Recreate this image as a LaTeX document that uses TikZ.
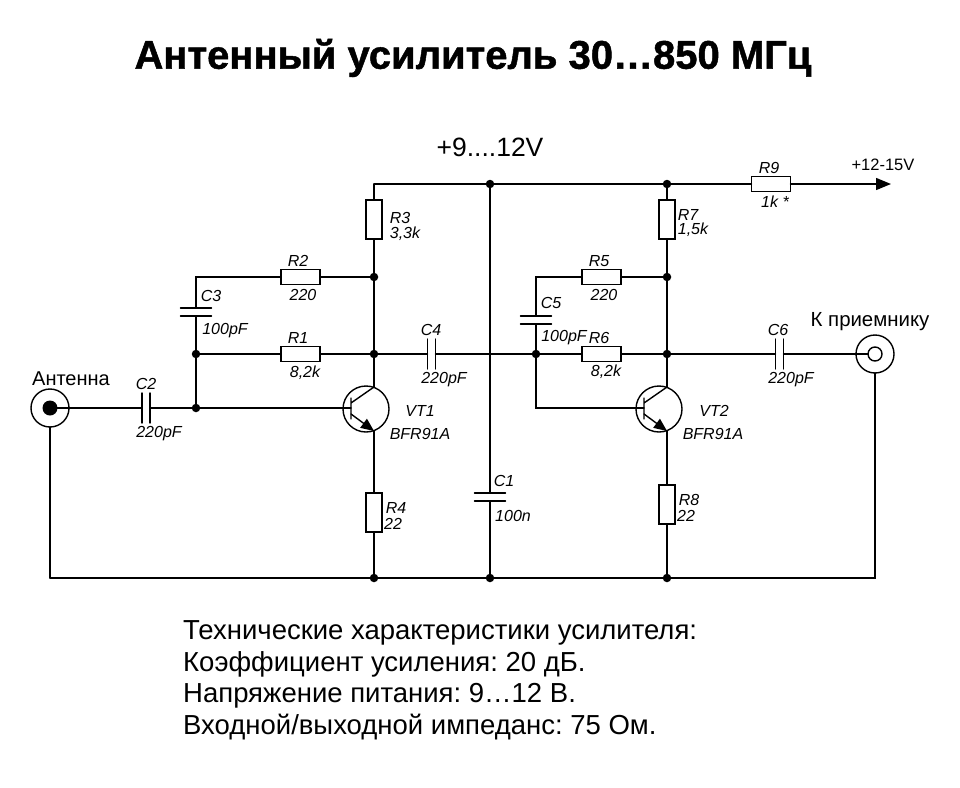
\documentclass[tikz,border=0pt]{standalone}
\usepackage{fontspec}
\setmainfont{Liberation Sans}
\newfontfamily\titlefont[FakeBold=1.2]{Liberation Sans Bold}
\usetikzlibrary{arrows.meta}
\frenchspacing
\tikzset{
  wire/.style={line width=1.4pt,black,line cap=round},
  resh/.style={draw,line width=1.4pt,rectangle,inner sep=0pt,outer sep=0pt,minimum width=39pt,minimum height=15pt},
  resv/.style={draw,line width=1.4pt,rectangle,inner sep=0pt,outer sep=0pt,minimum width=16pt,minimum height=39pt},
  capv/.style={rectangle,inner sep=0pt,outer sep=0pt,minimum width=8pt,minimum height=30pt},
  caph/.style={rectangle,inner sep=0pt,outer sep=0pt,minimum width=31pt,minimum height=8pt},
  jct/.style={circle,fill=black,inner sep=0pt,outer sep=0pt,minimum size=8.5pt},
  trans/.style={circle,draw,line width=1.4pt,inner sep=0pt,outer sep=0pt,minimum size=46pt},
  conn/.style={circle,draw,line width=1.4pt,inner sep=0pt,outer sep=0pt,minimum size=38pt},
  val/.style={inner sep=0pt,yshift=-1pt,font=\fontsize{16}{17}\selectfont\itshape},
  spec/.style={anchor=west,inner sep=0pt,font=\fontsize{27.5}{29}\selectfont},
  emit/.style={wire,-{Triangle[length=13pt,width=11pt]}}
}
\begin{document}
\begin{tikzpicture}[x=1pt,y=-1pt]
\useasboundingbox (0,0) rectangle (960,787);
% junctions
\node[jct] (j196a) at (196,408) {};
\node[jct] (j196b) at (196,354) {};
\node[jct] (j374a) at (374,277) {};
\node[jct] (j374b) at (374,354) {};
\node[jct] (j374c) at (374,578) {};
\node[jct] (j490a) at (490,184) {};
\node[jct] (j490b) at (490,578) {};
\node[jct] (j666a) at (667,184) {};
\node[jct] (j666b) at (667,277) {};
\node[jct] (j666c) at (667,354) {};
\node[jct] (j666d) at (667,578) {};
\node[jct] (j536) at (536,354) {};
% connectors
\node[conn] (ant) at (50,408) {};
\node[circle,fill=black,inner sep=0pt,outer sep=0pt,minimum size=15pt] (antc) at (50,408) {};
\node[conn] (out) at (875,354) {};
\node[circle,draw,line width=1.4pt,inner sep=0pt,outer sep=0pt,minimum size=14pt] (outc) at (875,354) {};
% resistors
\node[resh] (R1) at (300.5,354) {};
\node[resh] (R2) at (300.5,277) {};
\node[resv] (R3) at (374,219.5) {};
\node[resv] (R4) at (374,512.5) {};
\node[resh] (R5) at (601.5,277) {};
\node[resh] (R6) at (601.5,354) {};
\node[resv] (R7) at (667,219.5) {};
\node[resv] (R8) at (667,504.5) {};
\node[resh] (R9) at (771,184) {};
% capacitors
\node[capv] (C2) at (146,408) {};
\node[caph] (C3) at (196,312) {};
\node[capv] (C4) at (431.5,354) {};
\node[caph] (C5) at (536,320) {};
\node[capv] (C6) at (779.5,354) {};
\node[caph] (C1) at (490,497) {};
\foreach \c in {C2,C4,C6}{
  \draw[wire] (\c.north west)--(\c.south west) (\c.north east)--(\c.south east);
}
\foreach \c in {C3,C5,C1}{
  \draw[wire] (\c.north west)--(\c.north east) (\c.south west)--(\c.south east);
}
% transistors
\node[trans] (T1) at (366,409) {};
\coordinate (b1t) at (351,398); \coordinate (b1b) at (351,419);
\coordinate (b1) at (351,408); \coordinate (c1) at (351,403); \coordinate (e1) at (351,414);
\coordinate (c1o) at (374,387); \coordinate (e1o) at (374,431);
\draw[wire] (b1t)--(b1b) (c1)--(c1o);
\draw[emit] (e1)--(e1o);
\node[trans] (T2) at (659,409) {};
\coordinate (b2t) at (644,398); \coordinate (b2b) at (644,419);
\coordinate (b2) at (644,408); \coordinate (c2) at (644,403); \coordinate (e2) at (644,414);
\coordinate (c2o) at (667,387); \coordinate (e2o) at (667,431);
\draw[wire] (b2t)--(b2b) (c2)--(c2o);
\draw[emit] (e2)--(e2o);
% wiring
\coordinate (tl) at (374,184);
\coordinate (arr) at (891,184);
\coordinate (bl) at (50,578);
\coordinate (br) at (875,578);
\coordinate (c3t) at (196,277);
\coordinate (c5t) at (536,277);
\coordinate (b2c) at (536,408);
\draw[wire] (tl)--(j490a)--(j666a)--(R9.west);
\draw[wire,-{Triangle[length=15pt,width=12pt]}] (R9.east)--(arr);
\draw[wire] (tl)--(R3.north) (R3.south)--(j374a)--(j374b)--(c1o);
\draw[wire] (e1o)--(R4.north) (R4.south)--(j374c);
\draw[wire] (j666a)--(R7.north) (R7.south)--(j666b)--(j666c)--(c2o);
\draw[wire] (e2o)--(R8.north) (R8.south)--(j666d);
\draw[wire] (bl)--(br)--(out.south);
\draw[wire] (ant.south)--(bl);
\draw[wire] (antc.center)--(C2.west) (C2.east)--(j196a)--(b1);
\draw[wire] (j196a)--(j196b)--(C3.south) (C3.north)--(c3t)--(R2.west) (R2.east)--(j374a);
\draw[wire] (j196b)--(R1.west) (R1.east)--(j374b)--(C4.west) (C4.east)--(j536);
\draw[wire] (j536)--(R6.west) (R6.east)--(j666c)--(C6.west) (C6.east)--(outc.west);
\draw[wire] (j536)--(C5.south) (C5.north)--(c5t)--(R5.west) (R5.east)--(j666b);
\draw[wire] (j536)--(b2c)--(b2);
\draw[wire] (j490a)--(C1.north) (C1.south)--(j490b);
% title and texts
\node[inner sep=0pt,font=\fontsize{40}{42}\titlefont] (title) at (473,58) {Антенный усилитель 30…850 МГц};
\node[inner sep=0pt,font=\fontsize{26.5}{28}\selectfont] (vcc) at (490,147) {+9....12V};
\node[inner sep=0pt,font=\fontsize{16.5}{17}\selectfont] (v15) at (883,165) {+12-15V};
\node[inner sep=0pt,font=\fontsize{20}{21}\selectfont] (lant) at (71,379) {Антенна};
\node[inner sep=0pt,font=\fontsize{20.4}{22}\selectfont] (lout) at (870,322) {К приемнику};
\node[val] (tR1) at (298,337) {R1};
\node[val] (vR1) at (305,372) {8,2k};
\node[val] (tR2) at (298,260) {R2};
\node[val] (vR2) at (303,294) {220};
\node[val] (tR3) at (400,217) {R3};
\node[val] (vR3) at (405,233) {3,3k};
\node[val] (tR4) at (396,507) {R4};
\node[val] (vR4) at (393,523) {22};
\node[val] (tR5) at (599,260) {R5};
\node[val] (vR5) at (604,294) {220};
\node[val] (tR6) at (599,337) {R6};
\node[val] (vR6) at (606,371) {8,2k};
\node[val] (tR7) at (688,214) {R7};
\node[val] (vR7) at (693,229) {1,5k};
\node[val] (tR8) at (689,499) {R8};
\node[val] (vR8) at (686,515) {22};
\node[val] (tR9) at (769,167) {R9};
\node[val] (vR9) at (775,201) {1k *};
\node[val] (tC1) at (504,480) {C1};
\node[val] (vC1) at (513,515) {100n};
\node[val] (tC2) at (146,383) {C2};
\node[val] (vC2) at (159,433) {220pF};
\node[val] (tC3) at (211,295) {C3};
\node[val] (vC3) at (225,330) {100pF};
\node[val] (tC4) at (431,329) {C4};
\node[val] (vC4) at (444,379) {220pF};
\node[val] (tC5) at (551,302) {C5};
\node[val] (vC5) at (564,337) {100pF};
\node[val] (tC6) at (778,329) {C6};
\node[val] (vC6) at (791,379) {220pF};
\node[val] (tT1) at (420,410) {VT1};
\node[val] (vT1) at (420,433) {BFR91A};
\node[val] (tT2) at (714,410) {VT2};
\node[val] (vT2) at (713,433) {BFR91A};
\node[spec] (s1) at (183,633) {Технические характеристики усилителя:};
\node[spec] (s2) at (183,664) {Коэффициент усиления: 20 дБ.};
\node[spec] (s3) at (183,696) {Напряжение питания: 9…12 В.};
\node[spec] (s4) at (183,727) {Входной/выходной импеданс: 75 Ом.};
\end{tikzpicture}
\end{document}
